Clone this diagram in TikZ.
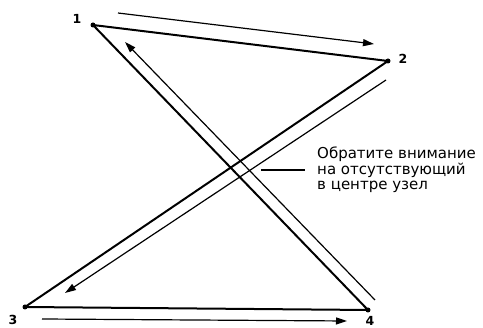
\documentclass[tikz,border=0pt]{standalone}
\usepackage{fontspec}
\setmainfont{DejaVu Sans}
\usetikzlibrary{arrows.meta}
\begin{document}
\begin{tikzpicture}[x=1pt,y=-1pt,
  dot/.style={circle,fill,inner sep=0pt,minimum size=5pt},
  edge/.style={line width=2pt,line join=round},
  guide/.style={line width=1.2pt,-{Triangle[length=11pt,width=7pt]}},
  plainline/.style={line width=1.2pt},
  num/.style={font=\fontsize{12.5}{12.5}\selectfont\bfseries,inner sep=0pt},
  note/.style={font=\fontsize{15}{15.5}\selectfont,align=left,inner sep=0pt,anchor=west}]
\useasboundingbox (0,0) rectangle (483,328);
\node[dot] (n1) at (93,25) {};
\node[dot] (n2) at (388,61) {};
\node[dot] (n3) at (25,307) {};
\node[dot] (n4) at (368,310) {};
\node[num] (l1) at (77,19) {1};
\node[num] (l2) at (403,59) {2};
\node[num] (l3) at (13,320) {3};
\node[num] (l4) at (370,321) {4};
\draw[edge] (n1.center) -- (n2.center) -- (n3.center) -- (n4.center) -- cycle;
\coordinate (a1s) at (118,13); \coordinate (a1e) at (374,44);
\coordinate (a2s) at (386,80); \coordinate (a2e) at (65,293);
\coordinate (a3s) at (42,319); \coordinate (a3e) at (347,321);
\coordinate (a4s) at (375,300); \coordinate (a4e) at (125,42);
\draw[guide] (a1s) -- (a1e);
\draw[guide] (a2s) -- (a2e);
\draw[guide] (a3s) -- (a3e);
\draw[guide] (a4s) -- (a4e);
\node[note] (txt) at (317,170) {Обратите внимание\\на отсутствующий\\в центре узел};
\coordinate (p) at (261,170);
\draw[plainline] (p) -- ([xshift=-12pt]txt.west);
\end{tikzpicture}
\end{document}
